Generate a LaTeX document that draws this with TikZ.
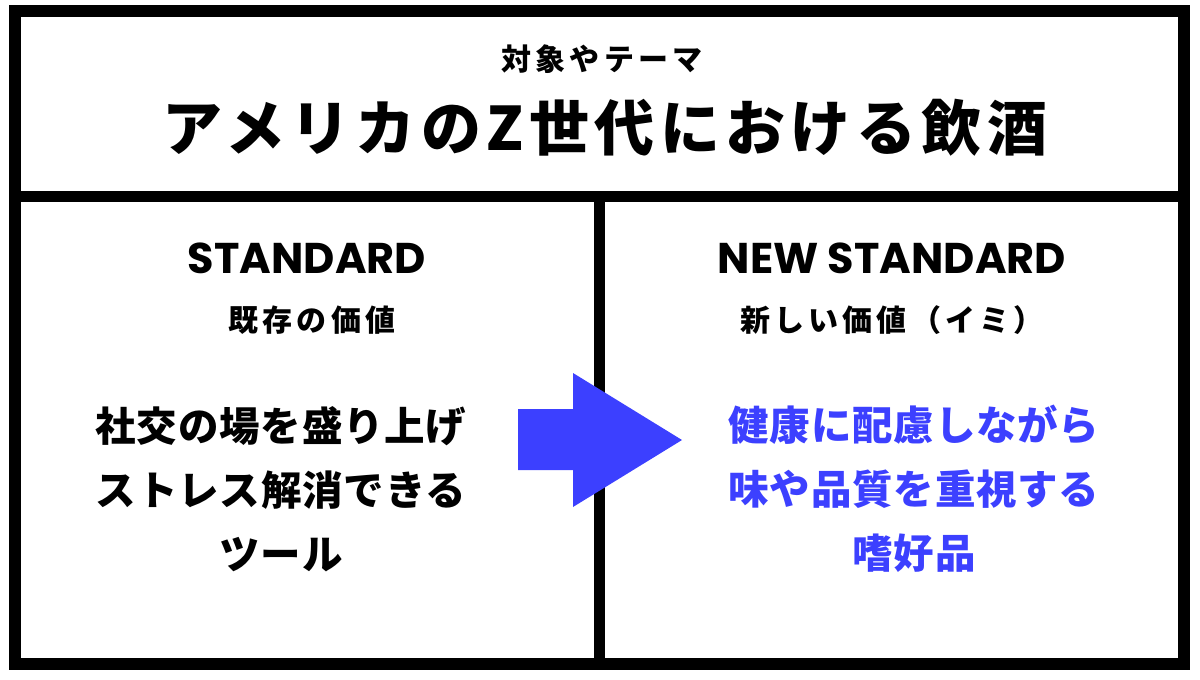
\documentclass[tikz,border=0pt]{standalone}
\usepackage{fontspec}
\newfontfamily\jpfont[LetterSpace=2]{Noto Sans CJK JP}
\newfontfamily\jpwide[LetterSpace=14]{Noto Sans CJK JP}
\newfontfamily\jptitle[LetterSpace=9]{Noto Sans CJK JP}
\newfontfamily\headfont{Poppins}
\definecolor{arrowblue}{RGB}{60,64,255}

\begin{document}
\begin{tikzpicture}[%
        x = 1pt,
        y = -1pt,
        line width = 11.5pt,
        line join = miter,
        smalltext/.style = {font = \jpwide\bfseries\fontsize{30}{36}\selectfont},
        headtext/.style = {font = \headfont\bfseries\fontsize{43}{50}\selectfont},
        bodytext/.style = {align = center, font = \jpfont\bfseries\fontsize{40.5}{64}\selectfont}
    ]

        \useasboundingbox (0, 0) rectangle (1200, 680);

        % Corners of the frame and the dividers.
        \coordinate (TL) at (15, 11);
        \coordinate (BR) at (1184, 664);
        \coordinate (ML) at (15, 196.5);
        \coordinate (MR) at (1184, 196.5);
        \coordinate (MT) at (599.5, 196.5);
        \coordinate (MB) at (599.5, 664);

        % Draw in the frame and the dividing lines.
        \draw (TL) rectangle (BR);
        \draw (ML) to (MR);
        \draw (MT) to (MB);

        % Arrow between the two halves.
        \fill[arrowblue] (518, 409) -- (573, 409) -- (573, 373) -- (682, 440)
            -- (573, 507) -- (573, 470) -- (518, 470) -- cycle;

        % Theme at the top.
        \node[smalltext] (theme) at (602, 59) {対象やテーマ};
        \node[font = \jptitle\bfseries\fontsize{60}{72}\selectfont] (title) at (605, 128)
            {アメリカのZ世代における飲酒};

        % Left half.
        \node[headtext] (std) at (307, 258) {STANDARD};
        \node[smalltext] (oldval) at (312, 320) {既存の価値};
        \node[bodytext] (oldtext) at (281, 489)
            {社交の場を盛り上げ\\ストレス解消できる\\ツール};

        % Right half.
        \node[headtext] (newstd) at (892, 258) {NEW STANDARD};
        \node[smalltext] (newval) at (892, 320) {新しい価値（イミ）};
        \node[bodytext, text = arrowblue] (newtext) at (914, 489)
            {健康に配慮しながら\\味や品質を重視する\\嗜好品};
    \end{tikzpicture}
\end{document}
